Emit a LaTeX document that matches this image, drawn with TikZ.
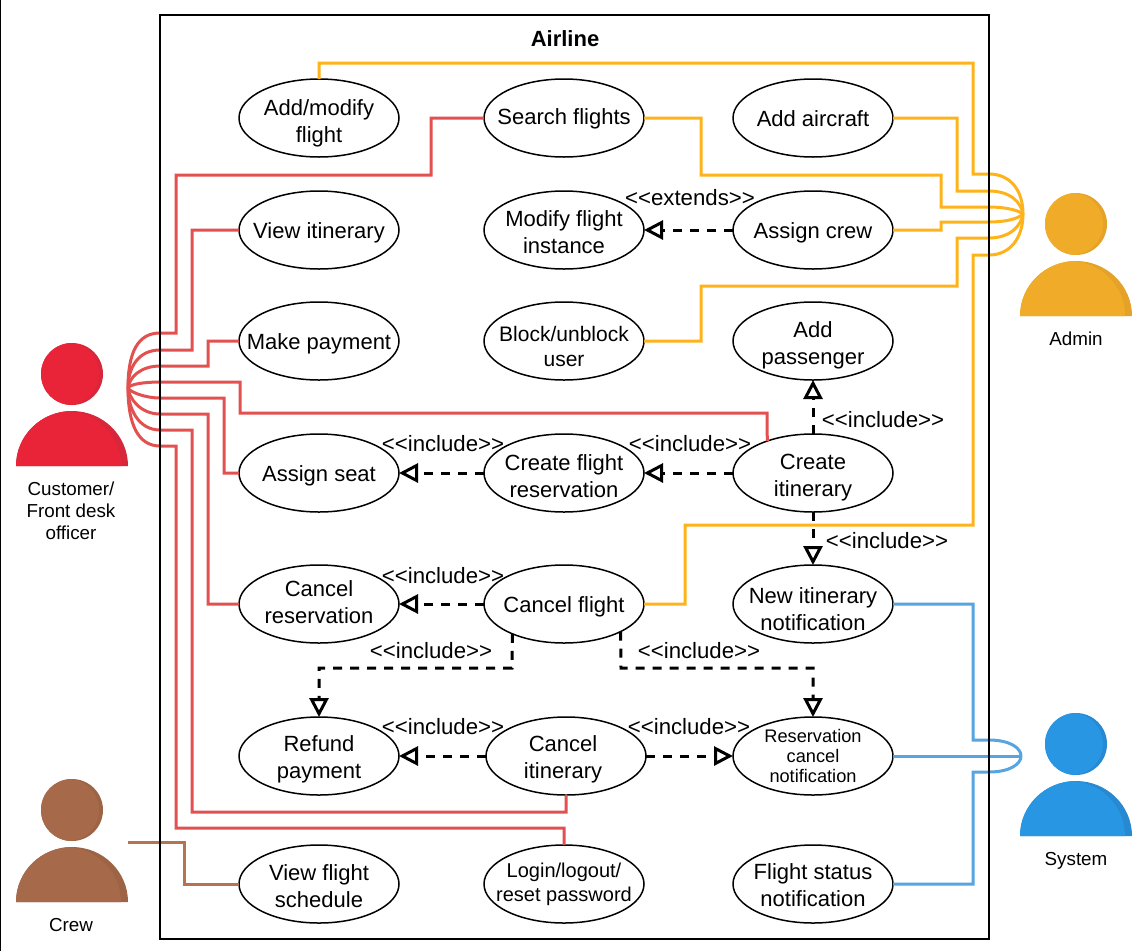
\documentclass[tikz,border=0pt]{standalone}
\usepackage{fontspec}
\setmainfont{Liberation Sans}
\usetikzlibrary{shapes.geometric,arrows.meta}
\definecolor{cred}{HTML}{E25050}
\definecolor{corange}{HTML}{FFB31A}
\definecolor{cblue}{HTML}{56A5E0}
\definecolor{cbrown}{HTML}{B5734F}
\definecolor{pred}{HTML}{E92439}\definecolor{predd}{HTML}{D8263A}
\definecolor{porg}{HTML}{F0AC29}\definecolor{porgd}{HTML}{E5A228}
\definecolor{pblu}{HTML}{2896E3}\definecolor{pblud}{HTML}{2689D2}
\definecolor{pbrn}{HTML}{A66A4B}\definecolor{pbrnd}{HTML}{9C6345}
\tikzset{
 x=1pt,y=-1pt,
 uc/.style={ellipse,draw=black,line width=1.5pt,fill=white,minimum width=160pt,minimum height=78pt,inner sep=0pt,outer sep=0pt,font=\fontsize{22}{27}\selectfont},
 ucs/.style={uc,font=\fontsize{20}{24}\selectfont},
 ucb/.style={uc,font=\fontsize{21}{25}\selectfont},
 ucx/.style={uc,font=\fontsize{18.2}{20}\selectfont},
 lab/.style={font=\fontsize{22.2}{26}\selectfont,inner sep=0pt,yshift=-1pt},
 act/.style={font=\fontsize{18.8}{22.2}\selectfont,align=center,inner sep=0pt},
 dep/.style={line width=3pt,dash pattern=on 9pt off 8pt,-{Triangle[open,fill=white,length=19pt,width=19pt,line width=3pt,sep=0pt]}},
 rl/.style={line width=3pt,draw=cred},
 ol/.style={line width=3pt,draw=corange},
 bl/.style={line width=3pt,draw=cblue},
 nl/.style={line width=3pt,draw=cbrown},
}
% #1: how far the text sits below the centre of its ellipse; the node itself gets no text size
\newsavebox{\utbox}
\newlength{\utraise}
\newcommand{\ut}[2]{\sbox{\utbox}{\begin{tabular}{@{}c@{}}#2\end{tabular}}%
 \setlength{\utraise}{\dimexpr(\dp\utbox-\ht\utbox)/2-#1pt-3pt\relax}%
 \raisebox{\utraise}[0pt][0pt]{\makebox[0pt]{\usebox{\utbox}}}}
\newcommand{\person}[5]{%
 \fill[#5] (#1,#2) circle[radius=31pt];
 \begin{scope}
  \clip (#1,#2) circle[radius=31pt];
  \fill[#4] (#1-4,#2) circle[radius=31pt];
 \end{scope}
 \def\bodypath##1{(##1-56,#3+55) .. controls (##1-56,#3+24.6) and (##1-30.9,#3) .. (##1,#3) .. controls (##1+30.9,#3) and (##1+56,#3+24.6) .. (##1+56,#3+55) -- cycle}
 \fill[#5] \bodypath{#1};
 \begin{scope}
  \clip \bodypath{#1};
  \fill[#4] \bodypath{#1-7};
 \end{scope}
}
\begin{document}
\begin{tikzpicture}
\useasboundingbox (0,0) rectangle (1147,951);
\fill[white] (0,0) rectangle (1147,951);
\draw[line width=1.5pt] (0.7,0) -- (0.7,951);

% hubs
\coordinate (hubC) at (128,388);
\coordinate (hubA) at (1023,214);
\coordinate (hubS) at (1021,756);
\coordinate (hubB) at (128,842);

% use cases
\node[uc] (addflight) at (319,118) {\ut{2.5}{Add/modify\\flight}};
\node[uc] (search) at (564,118) {\ut{-2}{Search flights}};
\node[uc] (aircraft) at (813,118) {\ut{0}{Add aircraft}};
\node[uc] (viewit) at (319,230) {\ut{0}{View itinerary}};
\node[uc] (modify) at (564,230) {\ut{2}{Modify flight\\instance}};
\node[uc] (crew) at (813,230) {\ut{0}{Assign crew}};
\node[uc] (pay) at (319,341) {\ut{0}{Make payment}};
\node[ucb] (block) at (564,341) {\ut{4.5}{Block/unblock\\user}};
\node[uc] (addpass) at (813,341) {\ut{2}{Add\\passenger}};
\node[uc] (seat) at (319,473) {\ut{0}{Assign seat}};
\node[uc] (cfr) at (564,473) {\ut{2.5}{Create flight\\reservation}};
\node[uc] (cit) at (813,473) {\ut{1.5}{Create\\itinerary}};
\node[uc] (cres) at (319,604) {\ut{-2.5}{Cancel\\reservation}};
\node[uc] (cfl) at (564,604) {\ut{0}{Cancel flight}};
\node[uc] (newit) at (813,604) {\ut{4.5}{New itinerary\\notification}};
\node[uc] (refund) at (319,756) {\ut{0.5}{Refund\\payment}};
\node[uc] (cancit) at (566,756) {\kern-6pt\ut{0.5}{Cancel\\itinerary}};
\node[ucx] (rcn) at (813,756) {\ut{-1}{Reservation\\cancel\\notification}};
\node[uc] (vfs) at (319,884) {\ut{1.5}{View flight\\schedule}};
\node[ucs] (login) at (564,884) {\ut{-2}{Login/logout/\\reset password}};
\node[uc] (fsn) at (813,884) {\ut{1}{Flight status\\notification}};

% actors
\person{72}{374}{411}{pred}{predd}
\person{1076}{224}{261}{porg}{porgd}
\person{1076}{744}{781}{pblu}{pblud}
\person{72}{810}{847}{pbrn}{pbrnd}
\node[act] (acust) at (71,511) {Customer/\\Front desk\\officer};
\node[act] (aadmin) at (1076,339) {Admin};
\node[act] (asys) at (1076,861) {System};
\node[act] (acrew) at (71,925) {Crew};

% red connectors
\begin{scope}[line join=miter]
\draw[rl] (hubC) .. controls (128,352) and (138,333) .. (160,333) -- (176,333) -- (176,175) -- (431,175) -- (431,118) -- (search.west);
\draw[rl] (hubC) .. controls (128,368) and (138,350) .. (160,350) -- (192,350) -- (192,230) -- (viewit.west);
\draw[rl] (hubC) .. controls (129,378) and (140,366) .. (160,366) -- (208,366) -- (208,341) -- (pay.west);
\draw[rl] (hubC) .. controls (130,384) and (145,382) .. (160,382) -- (240,382) -- (240,413) -- (767,413) -- (cit.145);
\draw[rl] (hubC) .. controls (130,392) and (145,398) .. (160,398) -- (224,398) -- (224,473) -- (seat.west);
\draw[rl] (hubC) .. controls (129,398) and (140,414) .. (160,414) -- (208,414) -- (208,604) -- (cres.west);
\draw[rl] (hubC) .. controls (128,408) and (138,430) .. (160,430) -- (192,430) -- (192,812) -- (566,812) -- (cancit.south);
\draw[rl] (hubC) .. controls (128,424) and (138,446) .. (160,446) -- (176,446) -- (176,828) -- (564,828) -- (login.north);

% orange connectors
\draw[ol] (hubA) .. controls (1023,190) and (1010,174) .. (989,174) -- (973,174) -- (973,63) -- (319,63) -- (addflight.north);
\draw[ol] (hubA) .. controls (1021,202) and (1010,191) .. (989,191) -- (957,191) -- (957,118) -- (aircraft.east);
\draw[ol] (hubA) .. controls (1018,210) and (1005,207) .. (989,207) -- (941,207) -- (941,175) -- (701,175) -- (701,118) -- (search.east);
\draw[ol] (hubA) .. controls (1018,219) and (1005,222) .. (989,222) -- (941,222) -- (941,230) -- (crew.east);
\draw[ol] (hubA) .. controls (1021,226) and (1010,238) .. (989,238) -- (957,238) -- (957,286) -- (701,286) -- (701,341) -- (block.east);
\draw[ol] (hubA) .. controls (1023,238) and (1010,255) .. (989,255) -- (973,255) -- (973,525) -- (685,525) -- (685,604) -- (cfl.east);

% blue connectors
\draw[bl] (hubS) .. controls (1021,748) and (1010,740) .. (989,740) -- (973,740) -- (973,604) -- (newit.east);
\draw[bl] (hubS) -- (rcn.east);
\draw[bl] (hubS) .. controls (1021,764) and (1010,772) .. (989,772) -- (973,772) -- (973,884) -- (fsn.east);

% brown connector
\draw[nl] (hubB) -- (184,842) -- (184,884) -- (vfs.west);
\end{scope}

% frame
\draw[line width=1.5pt] (160,15) rectangle (989,939);
\node[font=\bfseries\fontsize{22}{26}\selectfont,inner sep=0pt] (title) at (565,39) {Airline};

% dependencies
\draw[dep] (crew.west) -- (modify.east);
\draw[dep] (cit.north) -- (addpass.south);
\draw[dep] (cit.west) -- (cfr.east);
\draw[dep] (cfr.west) -- (seat.east);
\draw[dep] (cit.south) -- (newit.north);
\draw[dep] (cfl.west) -- (cres.east);
\draw[dep] (cfl.210) -- (512,668) -- (319,668) -- (refund.north);
\draw[dep] (cfl.-26) -- (621,668) -- (813,668) -- (rcn.north);
\draw[dep] (cancit.west) -- (refund.east);
\draw[dep] (cancit.east) -- (rcn.west);

% labels
\node[lab] (l1) at (690,197) {<{}<extends>{}>};
\node[lab] (l2) at (883,419) {<{}<include>{}>};
\node[lab] (l3) at (690,443) {<{}<include>{}>};
\node[lab] (l4) at (443,443) {<{}<include>{}>};
\node[lab] (l5) at (887,540) {<{}<include>{}>};
\node[lab] (l6) at (443,575) {<{}<include>{}>};
\node[lab] (l7) at (431,650) {<{}<include>{}>};
\node[lab] (l8) at (699,650) {<{}<include>{}>};
\node[lab] (l9) at (443,726) {<{}<include>{}>};
\node[lab] (l10) at (689,726) {<{}<include>{}>};
\end{tikzpicture}
\end{document}
